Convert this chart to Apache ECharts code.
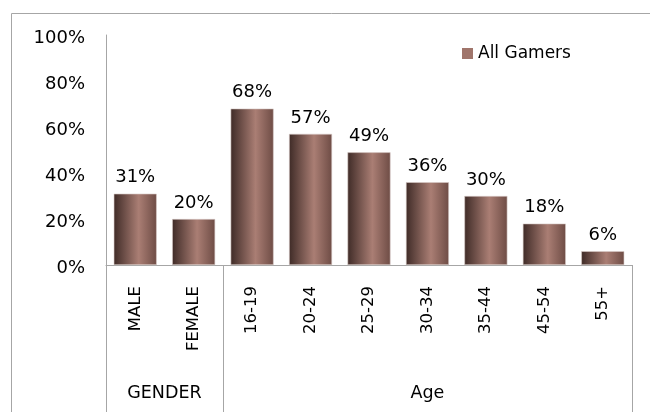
<!DOCTYPE html>
<html>
<head>
<meta charset="utf-8">
<script src="https://cdn.jsdelivr.net/npm/echarts@6/dist/echarts.min.js"></script>
<style>html,body{margin:0;padding:0;background:#fff}#c{width:650px;height:412px}</style>
</head>
<body>
<div id="c"></div>
<script>
var categories = ['MALE', 'FEMALE', '16-19', '20-24', '25-29', '30-34', '35-44', '45-54', '55+'];
var values = [31, 20, 68, 57, 49, 36, 30, 18, 6];
var seriesName = 'All Gamers';
var groupNames = ['GENDER', 'Age'];
var groupSpans = [2, 7];
var yTicks = [0, 20, 40, 60, 80, 100];

var groupCenters = [], groupEdges = [0], acc = 0;
groupSpans.forEach(function (s) { groupCenters.push(acc + s / 2); acc += s; groupEdges.push(acc); });

var font = 'DejaVu Sans';
var chart = echarts.init(document.getElementById('c'), null, { renderer: 'canvas' });
chart.setOption({
  animation: false,
  textStyle: { fontFamily: font },
  graphic: [{
    type: 'rect', shape: { x: 11.5, y: 13.5, width: 700, height: 500 },
    style: { fill: 'none', stroke: '#a6a6a6', lineWidth: 1 }, silent: true
  }],
  legend: {
    data: [seriesName], left: 462, top: 45, padding: 0, itemWidth: 11, itemHeight: 11,
    icon: 'rect',
    textStyle: { fontFamily: font, fontSize: 17, color: '#000' },
    itemStyle: { color: '#a0756b', borderWidth: 0 }
  },
  grid: { left: 106, right: 18, top: 35, bottom: 147, containLabel: false },
  xAxis: [{
    type: 'category', data: categories, position: 'bottom',
    axisLine: { show: true, lineStyle: { color: '#a6a6a6', width: 1 } },
    axisTick: { show: false },
    axisLabel: { rotate: 90, margin: 21, fontFamily: font, fontSize: 16.5, color: '#000', interval: 0 }
  }, {
    type: 'value', min: 0, max: categories.length, position: 'bottom',
    axisLine: { show: false }, splitLine: { show: false },
    axisTick: { show: true, customValues: groupEdges, length: 200, lineStyle: { color: '#a6a6a6', width: 1 } },
    axisLabel: {
      customValues: groupCenters, margin: 119, fontFamily: font, fontSize: 17.5, color: '#000',
      formatter: function (v) { var i = groupCenters.indexOf(v); return i >= 0 ? groupNames[i] : ''; }
    }
  }],
  yAxis: {
    type: 'value', min: yTicks[0], max: yTicks[yTicks.length - 1], interval: yTicks[1] - yTicks[0],
    axisLine: { show: true, lineStyle: { color: '#a6a6a6', width: 1 } },
    axisTick: { show: false }, splitLine: { show: false },
    axisLabel: { margin: 21, fontFamily: font, fontSize: 18, color: '#000', formatter: '{value}%', verticalAlign: 'top', lineHeight: 6 }
  },
  series: [{
    name: seriesName, type: 'bar', data: values, barWidth: 43, xAxisIndex: 0,
    itemStyle: {
      color: new echarts.graphic.LinearGradient(0, 0, 1, 0, [
        { offset: 0, color: '#3f2b27' },
        { offset: 0.58, color: '#aa7e74' },
        { offset: 1, color: '#6e4c45' }
      ]),
      borderColor: '#d8cbc8', borderWidth: 0.6
    },
    label: { show: true, position: 'top', distance: 7, formatter: '{c}%', fontFamily: font, fontSize: 18, color: '#000' }
  }]
});
</script>
</body>
</html>
